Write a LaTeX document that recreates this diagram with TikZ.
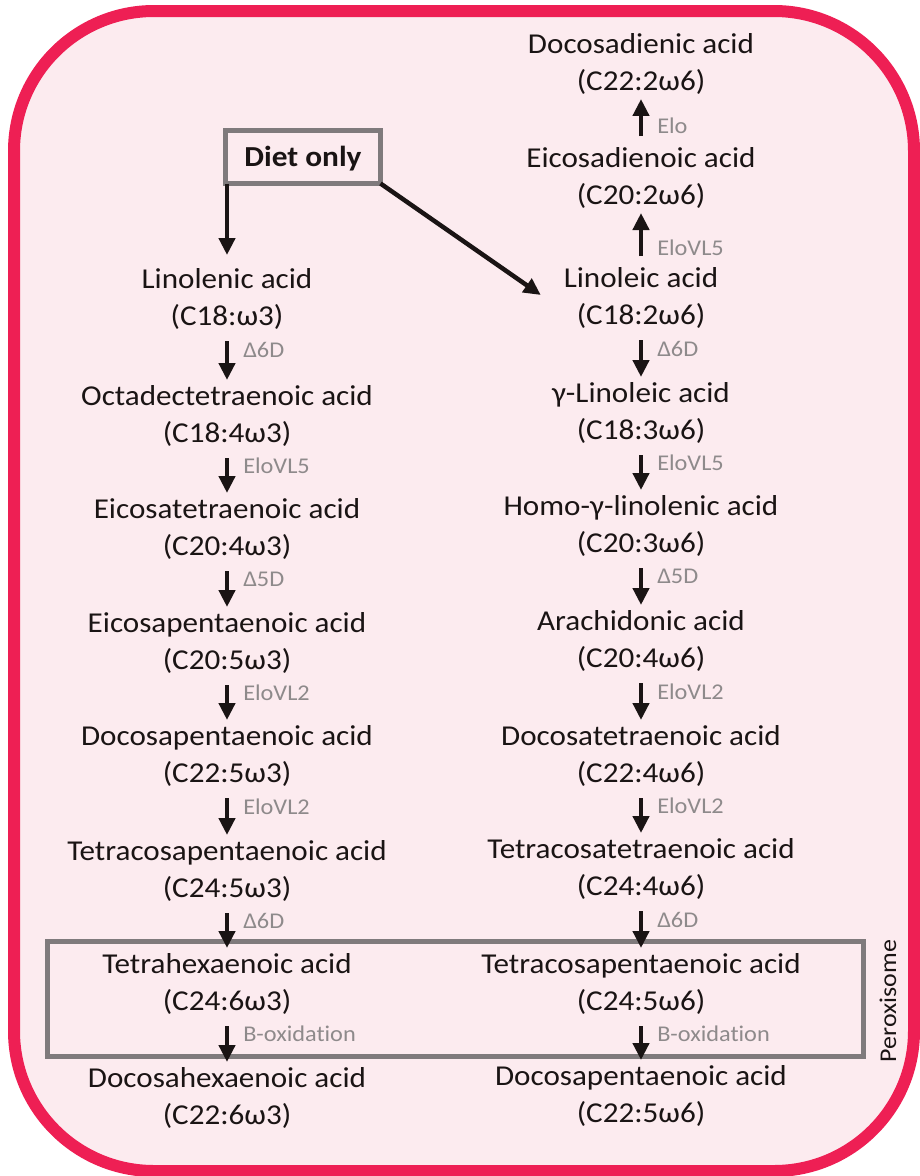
\documentclass[tikz,border=0pt]{standalone}
\usepackage{fontspec}
\setmainfont{Carlito}[FakeStretch=1.08,Ligatures={NoCommon}]
\usetikzlibrary{arrows.meta,calc}
\definecolor{framered}{HTML}{EE1F54}
\definecolor{framefill}{HTML}{FCEBEF}
\definecolor{boxgray}{HTML}{7F7A7C}
\definecolor{labgray}{HTML}{8E8A8B}
\definecolor{ink}{HTML}{1A1414}
\tikzset{
  cmp/.style={anchor=base, inner sep=0pt, outer sep=0pt, text=ink, font=\fontsize{28.8}{34}\selectfont},
  enz/.style={anchor=west, inner sep=0pt, xshift=14pt, text=labgray, font=\fontsize{22.5}{26}\selectfont},
  flow/.style={-{Triangle[length=17pt,width=16pt]}, line width=4.5pt, draw=ink, shorten <=12pt, shorten >=5pt},
  upflow/.style={flow, shorten <=11pt, shorten >=5pt},
}
\begin{document}
\begin{tikzpicture}[x=1pt,y=-1pt]
\useasboundingbox (0,0) rectangle (919,1176);
\draw[line width=12pt, draw=framered, fill=framefill, rounded corners=140pt] (14,11) rectangle (914,1171);

% Diet box
\node[draw=boxgray, line width=5pt, inner sep=0pt, outer sep=0pt, minimum width=155pt, minimum height=53pt,
      text height=19pt, text depth=0pt, text=ink, font=\fontsize{29}{34}\selectfont\bfseries] (diet) at (303,157) {Diet only};

% Peroxisome box
\node[draw=boxgray, line width=5pt, inner sep=0pt, outer sep=0pt, minimum width=816pt, minimum height=115pt] (perox) at (455,998.5) {};
\node[rotate=90, inner sep=0pt, text=ink, font=\fontsize{24}{28}\selectfont] (peroxlab) at (888,1001) {Peroxisome};

% Left column (omega-3)
\node[cmp] (L1) at (227,288) {Linolenic acid};
\node[cmp] (L1f) at (227,325) {(C18:ω3)};
\node[cmp] (L2) at (227,405) {Octadectetraenoic acid};
\node[cmp] (L2f) at (227,442) {(C18:4ω3)};
\node[cmp] (L3) at (227,518) {Eicosatetraenoic acid};
\node[cmp] (L3f) at (227,555) {(C20:4ω3)};
\node[cmp] (L4) at (227,632) {Eicosapentaenoic acid};
\node[cmp] (L4f) at (227,669) {(C20:5ω3)};
\node[cmp] (L5) at (227,745) {Docosapentaenoic acid};
\node[cmp] (L5f) at (227,782) {(C22:5ω3)};
\node[cmp] (L6) at (227,860) {Tetracosapentaenoic acid};
\node[cmp] (L6f) at (227,897) {(C24:5ω3)};
\node[cmp] (L7) at (227,973) {Tetrahexaenoic acid};
\node[cmp] (L7f) at (227,1010) {(C24:6ω3)};
\node[cmp] (L8) at (227,1087) {Docosahexaenoic acid};
\node[cmp] (L8f) at (227,1124) {(C22:6ω3)};

% Right column (omega-6)
\node[cmp] (R1) at (641,53) {Docosadienic acid};
\node[cmp] (R1f) at (641,90) {(C22:2ω6)};
\node[cmp] (R2) at (641,167) {Eicosadienoic acid};
\node[cmp] (R2f) at (641,204) {(C20:2ω6)};
\node[cmp] (R3) at (641,287) {Linoleic acid};
\node[cmp] (R3f) at (641,324) {(C18:2ω6)};
\node[cmp] (R4) at (641,402) {γ-Linoleic acid};
\node[cmp] (R4f) at (641,439) {(C18:3ω6)};
\node[cmp] (R5) at (641,515) {Homo-γ-linolenic acid};
\node[cmp] (R5f) at (641,552) {(C20:3ω6)};
\node[cmp] (R6) at (641,630) {Arachidonic acid};
\node[cmp] (R6f) at (641,667) {(C20:4ω6)};
\node[cmp] (R7) at (641,745) {Docosatetraenoic acid};
\node[cmp] (R7f) at (641,782) {(C22:4ω6)};
\node[cmp] (R8) at (641,858) {Tetracosatetraenoic acid};
\node[cmp] (R8f) at (641,895) {(C24:4ω6)};
\node[cmp] (R9) at (641,973) {Tetracosapentaenoic acid};
\node[cmp] (R9f) at (641,1010) {(C24:5ω6)};
\node[cmp] (R10) at (641,1085) {Docosapentaenoic acid};
\node[cmp] (R10f) at (641,1122) {(C22:5ω6)};

% Diet arrows
\draw[flow, shorten <=0pt, shorten >=13pt] (L1.north |- diet.south) -- (L1.north);
\coordinate (diagend) at ($(R3.base west)+(-23,8)$);
\draw[flow, shorten <=0pt, shorten >=0pt] (diet.south east) -- (diagend);

% Left arrows
\draw[flow] (L1f.south) -- node[enz, pos=0.38] {Δ6D} (L2.north);
\draw[flow] (L2f.south) -- node[enz, pos=0.38] {EloVL5} (L3.north);
\draw[flow] (L3f.south) -- node[enz, pos=0.38] {Δ5D} (L4.north);
\draw[flow] (L4f.south) -- node[enz, pos=0.38] {EloVL2} (L5.north);
\draw[flow] (L5f.south) -- node[enz, pos=0.38] {EloVL2} (L6.north);
\draw[flow] (L6f.south) -- node[enz, pos=0.38] {Δ6D} (L7.north);
\draw[flow] (L7f.south) -- node[enz, pos=0.38] {B-oxidation} (L8.north);

% Right arrows
\draw[upflow] (R2.north) -- node[enz, pos=0.4] {Elo} (R1f.south);
\draw[upflow] (R3.north) -- node[enz, pos=0.32] {EloVL5} (R2f.south);
\draw[flow] (R3f.south) -- node[enz, pos=0.38] {Δ6D} (R4.north);
\draw[flow] (R4f.south) -- node[enz, pos=0.38] {EloVL5} (R5.north);
\draw[flow] (R5f.south) -- node[enz, pos=0.38] {Δ5D} (R6.north);
\draw[flow] (R6f.south) -- node[enz, pos=0.38] {EloVL2} (R7.north);
\draw[flow] (R7f.south) -- node[enz, pos=0.38] {EloVL2} (R8.north);
\draw[flow] (R8f.south) -- node[enz, pos=0.38] {Δ6D} (R9.north);
\draw[flow] (R9f.south) -- node[enz, pos=0.38] {B-oxidation} (R10.north);
\end{tikzpicture}
\end{document}
